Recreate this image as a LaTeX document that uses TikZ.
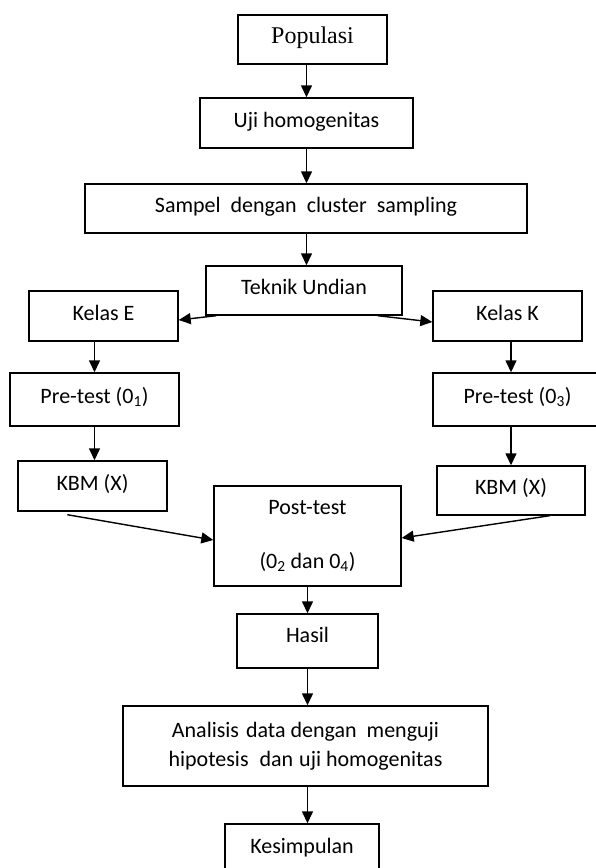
\documentclass[tikz,border=0pt]{standalone}
\usepackage{fontspec}
\setmainfont{Carlito}
\newfontfamily\popfont{Liberation Serif}
\usetikzlibrary{arrows.meta}
\begin{document}
\begin{tikzpicture}[x=1pt,y=-1pt,
  box/.style={draw,line width=1.4pt,inner sep=0pt,font=\fontsize{22}{27}\selectfont,align=center},
  onel/.style={text height=14pt,text depth=6pt},
  arr/.style={line width=1.4pt,-{Triangle[length=12pt,width=11pt]}}]
\useasboundingbox (0,0) rectangle (596,868);
\clip (0,0) rectangle (596,868);
\node[box,onel,minimum width=149pt,minimum height=49pt,font=\fontsize{24}{28}\popfont] (pop) at (312.5,39.5) {Populasi};
\node[box,onel,minimum width=213pt,minimum height=50pt] (uji) at (306.5,123) {Uji homogenitas};
\node[box,onel,minimum width=442pt,minimum height=49pt] (samp) at (306,208.5) {Sampel\hspace{10pt}dengan\hspace{10pt}cluster\hspace{10pt}sampling};
\node[box,onel,minimum width=196pt,minimum height=49pt] (tek) at (304,290.5) {Teknik Undian};
\node[box,onel,minimum width=149pt,minimum height=50pt] (ke) at (103.5,316) {Kelas E};
\node[box,onel,minimum width=149pt,minimum height=50pt] (kk) at (507.5,316) {Kelas K};
\node[box,onel,minimum width=169pt,minimum height=53pt,text depth=7pt] (pre1) at (94.5,399.5) {Pre-test (0\textsubscript{1})};
\node[box,onel,minimum width=169pt,minimum height=53pt,text depth=7pt] (pre3) at (517.5,399.5) {Pre-test (0\textsubscript{3})};
\node[box,onel,minimum width=149pt,minimum height=50pt] (kbm1) at (92.5,486) {KBM (X)};
\node[box,onel,minimum width=148pt,minimum height=49pt] (kbm2) at (511,490.5) {KBM (X)};
\node[box,minimum width=187pt,minimum height=100pt] (post) at (307.5,536) {Post-test\\[27pt](0\textsubscript{2} dan 0\textsubscript{4})};
\node[box,onel,text depth=11pt,minimum width=141pt,minimum height=54pt] (hasil) at (307.5,641) {Hasil};
\node[box,minimum width=365pt,minimum height=80pt] (anal) at (305.5,746) {Analisis\hspace{7pt}data dengan\hspace{10pt}menguji\\[2pt]hipotesis\hspace{11pt}dan\hspace{6pt}uji homogenitas};
\node[box,onel,minimum width=154pt,minimum height=50pt] (kes) at (302,849) {Kesimpulan};
\draw[arr] (uji.north |- pop.south) -- (uji.north);
\draw[arr] (uji.south) -- (uji.south |- samp.north);
\draw[arr] (samp.south -| uji.south) -- (uji.south |- tek.north);
\draw[arr] ([xshift=11pt]tek.south west) -- ([yshift=-4pt]ke.east);
\draw[arr] ([xshift=-25pt]tek.south east) -- ([yshift=-6pt]kk.west);
\draw[arr] (ke.south -| pre1.north) -- (pre1.north);
\draw[arr] (pre1.south) -- (pre1.south |- kbm1.north);
\draw[arr] (kk.south -| kbm2.north) -- (kbm2.north |- pre3.north);
\draw[arr] (pre3.south -| kbm2.north) -- (kbm2.north);
\draw[arr] ([xshift=50pt,yshift=-3pt]kbm1.south west) -- ([yshift=-4pt]post.west);
\draw[arr] ([xshift=-36pt]kbm2.south east) -- ([yshift=-2pt]post.east);
\draw[arr] (post.south -| hasil.north) -- (hasil.north);
\draw[arr] (hasil.south) -- (hasil.south |- anal.north);
\draw[arr] (anal.south -| hasil.south) -- (hasil.south |- kes.north);
\end{tikzpicture}
\end{document}
